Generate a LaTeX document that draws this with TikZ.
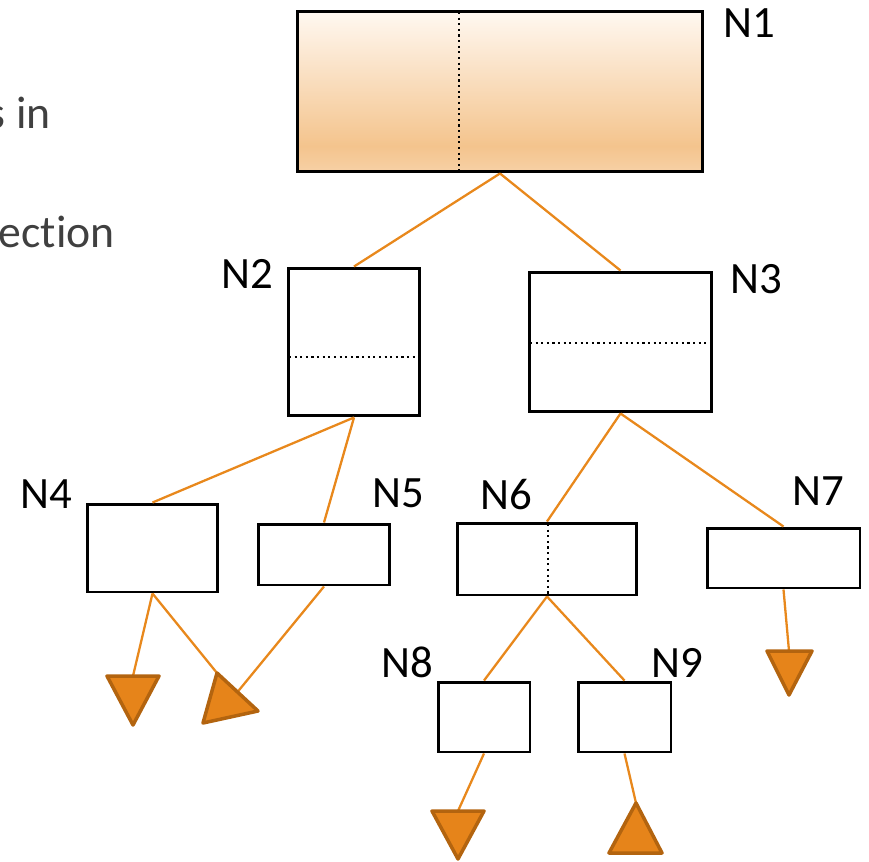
\documentclass[tikz,border=0pt]{standalone}
\usepackage{fontspec}
\setmainfont{Carlito}[Ligatures=NoCommon]
\definecolor{edgeorange}{HTML}{E8881C}
\definecolor{leaffill}{HTML}{E6841A}
\definecolor{leafline}{HTML}{B3640F}
\definecolor{textgray}{HTML}{404040}
\definecolor{rootlight}{HTML}{FFF8F1}
\definecolor{rootmid}{HTML}{F4C48D}
\definecolor{rootlow}{HTML}{F7D1A6}
\pgfdeclareverticalshading{rootshade}{100bp}{color(0bp)=(rootlow); color(25bp)=(rootlow);
  color(33bp)=(rootmid); color(75bp)=(rootlight); color(100bp)=(rootlight)}
\begin{document}
\begin{tikzpicture}[x=0.02cm,y=-0.02cm,
    box/.style={draw,line width=1.7pt,inner sep=0pt},
    divider/.style={line width=1.2pt,dotted},
    edge/.style={draw=edgeorange,line width=1.3pt},
    leaf/.style={draw=leafline,fill=leaffill,line width=2pt,line join=round},
    nodelabel/.style={anchor=base west,inner sep=0pt,font=\fontsize{25.5}{30}\selectfont},
    cuttext/.style={anchor=base east,inner sep=0pt,text=textgray,font=\fontsize{26}{31}\selectfont}]
  \useasboundingbox (0,0) rectangle (869,862);

  % text cut off at the left
  \node[cuttext] (sin) at (51,128) {s in};
  \node[cuttext] (sdir) at (115,247) {ection};

  % boxes
  \node[box,shading=rootshade,minimum width=8.12cm,minimum height=3.22cm] (N1) at (500,91.5) {};
  \node[box,minimum width=2.64cm,minimum height=2.96cm] (N2) at (354,342) {};
  \node[box,minimum width=3.66cm,minimum height=2.8cm] (N3) at (620.5,342) {};
  \node[box,minimum width=2.62cm,minimum height=1.76cm] (N4) at (152.5,548) {};
  \node[box,minimum width=2.64cm,minimum height=1.22cm] (N5) at (324,554.5) {};
  \node[box,minimum width=3.6cm,minimum height=1.44cm] (N6) at (547,559) {};
  \node[box,minimum width=3.06cm,minimum height=1.2cm] (N7) at (783.5,558) {};
  \node[box,minimum width=1.84cm,minimum height=1.4cm] (N8) at (484,717) {};
  \node[box,minimum width=1.86cm,minimum height=1.4cm] (N9) at (624.5,717) {};

  \draw[divider] (459,12) -- (459,171);
  \draw[divider] (289,357) -- (419,357);
  \draw[divider] (530,343) -- (711,343);
  \draw[divider] (548,524) -- (548,594);

  % labels
  \node[nodelabel] (lN1) at (723,37) {N1};
  \node[nodelabel] (lN2) at (221,288) {N2};
  \node[nodelabel] (lN3) at (730,293) {N3};
  \node[nodelabel] (lN4) at (20,508) {N4};
  \node[nodelabel] (lN5) at (372,507) {N5};
  \node[nodelabel] (lN6) at (480,509) {N6};
  \node[nodelabel] (lN7) at (792,505) {N7};
  \node[nodelabel] (lN8) at (381,677) {N8};
  \node[nodelabel] (lN9) at (651,677) {N9};

  % leaf ends
  \coordinate (t4) at (133,676);
  \coordinate (t45) at (217,673);
  \coordinate (t5) at (237.5,692);
  \coordinate (t7) at (789,651);
  \coordinate (t8) at (458,811);
  \coordinate (t9) at (636,803);

  \draw[edge] (N1.south) -- (N2.north);
  \draw[edge] (N1.south) -- (N3.north);
  \draw[edge] (N2.south) -- (N4.north);
  \draw[edge] (N2.south) -- (N5.north);
  \draw[edge] (N3.south) -- (N6.north);
  \draw[edge] (N3.south) -- (N7.north);
  \draw[edge] (N6.south) -- (N8.north);
  \draw[edge] (N6.south) -- (N9.north);
  \draw[edge] (N4.south) -- (t4);
  \draw[edge] (N4.south) -- (t45);
  \draw[edge] (N5.south) -- (t5);
  \draw[edge] (N7.south) -- (t7);
  \draw[edge] (N8.south) -- (t8);
  \draw[edge] (N9.south) -- (t9);

  \draw[leaf] (107,676) -- (159,676) -- (133,725) -- cycle;
  \draw[leaf] (t45) -- (258,711) -- (203,723) -- cycle;
  \draw[leaf] (767,651) -- (812,651) -- (789,695) -- cycle;
  \draw[leaf] (432,811) -- (484,811) -- (458,859) -- cycle;
  \draw[leaf] (t9) -- (662,853) -- (609,853) -- cycle;
\end{tikzpicture}
\end{document}
